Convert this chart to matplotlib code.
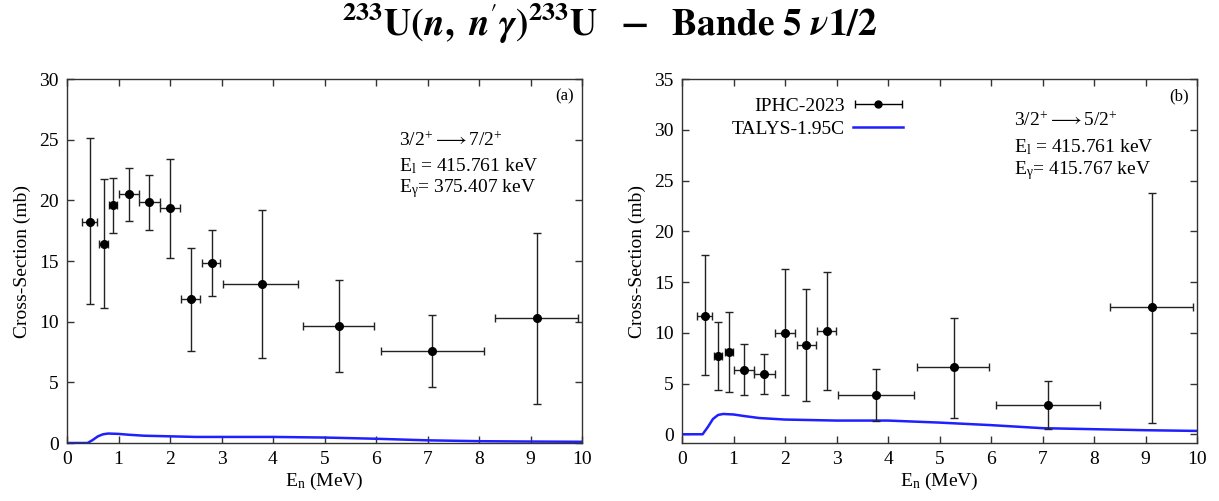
import numpy as np
import matplotlib
matplotlib.use("Agg")
import matplotlib.pyplot as plt
from matplotlib.container import ErrorbarContainer
from matplotlib.legend_handler import HandlerErrorbar

plt.rcParams['font.family'] = ['Liberation Serif', 'DejaVu Serif']
plt.rcParams['mathtext.fontset'] = 'custom'
plt.rcParams['mathtext.rm'] = 'Liberation Serif'
plt.rcParams['mathtext.it'] = 'Liberation Serif:italic'
plt.rcParams['mathtext.bf'] = 'Liberation Serif:bold'

# ---------------- data ----------------
# panel (a): 3/2+ -> 7/2+
a_E      = [0.455, 0.71, 0.90, 1.20, 1.60, 2.00, 2.41, 2.81, 3.78, 5.28, 7.09, 9.12]
a_E_lo   = [0.30, 0.615, 0.82, 1.00, 1.40, 1.80, 2.22, 2.63, 3.03, 4.58, 6.10, 8.32]
a_E_hi   = [0.59, 0.80, 0.98, 1.40, 1.80, 2.20, 2.59, 2.98, 4.49, 5.97, 8.10, 9.93]
a_xs     = [18.25, 16.43, 19.6, 20.5, 19.85, 19.35, 11.84, 14.84, 13.07, 9.63, 7.57, 10.27]
a_xs_lo  = [11.42, 11.15, 17.31, 18.33, 17.59, 15.22, 7.62, 12.08, 7.02, 5.84, 4.60, 3.22]
a_xs_hi  = [25.13, 21.74, 21.8, 22.65, 22.07, 23.4, 16.1, 17.59, 19.19, 13.4, 10.57, 17.34]

# panel (b): 3/2+ -> 5/2+
b_E      = [0.444, 0.705, 0.905, 1.20, 1.59, 2.00, 2.41, 2.81, 3.76, 5.28, 7.10, 9.13]
b_E_lo   = [0.30, 0.63, 0.83, 1.00, 1.40, 1.80, 2.23, 2.63, 3.03, 4.57, 6.09, 8.32]
b_E_hi   = [0.58, 0.78, 0.985, 1.40, 1.80, 2.20, 2.60, 2.99, 4.50, 5.97, 8.12, 9.93]
b_xs     = [11.7, 7.68, 8.1, 6.29, 5.9, 9.98, 8.8, 10.18, 3.89, 6.59, 2.9, 12.49]
b_xs_lo  = [5.8, 4.38, 4.18, 3.82, 3.99, 3.82, 3.3, 4.38, 1.35, 1.58, 0.53, 1.12]
b_xs_hi  = [17.69, 11.1, 12.09, 8.9, 7.87, 16.28, 14.27, 15.95, 6.39, 11.47, 5.27, 23.79]

# TALYS-1.95C calculations
talys_E  = [0.0, 0.4, 0.5, 0.6, 0.7, 0.8, 1.0, 1.2, 1.5, 2.0, 2.5, 3.0, 3.5, 4.0, 5.0, 6.0, 7.0, 8.0, 9.0, 10.0]
talys_a  = [0.0, 0.0, 0.25, 0.55, 0.72, 0.78, 0.75, 0.68, 0.60, 0.55, 0.50, 0.50, 0.50, 0.50, 0.45, 0.35, 0.22, 0.15, 0.12, 0.10]
talys_b  = [0.0, 0.0, 0.70, 1.50, 1.90, 2.00, 1.95, 1.80, 1.60, 1.45, 1.40, 1.35, 1.35, 1.35, 1.15, 0.90, 0.60, 0.50, 0.40, 0.33]

title = (r"$\mathbf{{}^{233}U(}\mathbfit{n}\mathbf{,\ }\mathbfit{n}{}^{\prime}\mathbfit{\gamma}"
         r"\mathbf{)^{233}U\ \ -\ \ Bande\ 5\ }\mathbfit{\nu}\mathbf{1/2}$")

panels = [
    dict(E=a_E, Elo=a_E_lo, Ehi=a_E_hi, xs=a_xs, xlo=a_xs_lo, xhi=a_xs_hi, talys=talys_a,
         ylim=(0, 30), yticks=np.arange(0, 31, 5), tag="(a)",
         trans=r"3/2$^{+}$$\longrightarrow$7/2$^{+}$", Eg="375.407",
         txy=(0.645, [0.83, 0.761, 0.70]), legend=False),
    dict(E=b_E, Elo=b_E_lo, Ehi=b_E_hi, xs=b_xs, xlo=b_xs_lo, xhi=b_xs_hi, talys=talys_b,
         ylim=(-0.86, 35), yticks=np.arange(0, 36, 5), tag="(b)",
         trans=r"3/2$^{+}$$\longrightarrow$5/2$^{+}$", Eg="415.767",
         txy=(0.645, [0.886, 0.813, 0.748]), legend=True),
]

fig = plt.figure(figsize=(12.19, 5.01), dpi=100)
fig.text(0.5, 0.953, title, ha='center', va='center', fontsize=27, math_fontfamily='stix')

lefts = [67/1219, 682/1219]
for p, left in zip(panels, lefts):
    ax = fig.add_axes([left, 58/501, 515/1219, 364/501])
    E = np.array(p['E']); xs = np.array(p['xs'])
    xerr = [E - np.array(p['Elo']), np.array(p['Ehi']) - E]
    yerr = [xs - np.array(p['xlo']), np.array(p['xhi']) - xs]
    ax.plot(talys_E, p['talys'], color='#1f1fff', lw=1.8, zorder=2)
    ax.errorbar(E, xs, xerr=xerr, yerr=yerr, fmt='o', color='black', ms=5.5,
                elinewidth=1.0, ecolor='#222222', capsize=3, capthick=1.0, zorder=3)
    ax.set_xlim(0, 10)
    ax.set_ylim(*p['ylim'])
    ax.set_xticks(np.arange(0, 11, 1))
    ax.set_yticks(p['yticks'])
    ax.tick_params(direction='in', top=True, right=True, length=5, width=1,
                   labelsize=14, color='#333333', pad=6)
    for s in ax.spines.values():
        s.set_linewidth(1.0)
        s.set_color('#333333')
    ax.set_xlabel(r"E$_\mathrm{n}$ (MeV)", fontsize=14, labelpad=2)
    ax.set_ylabel("Cross-Section (mb)", fontsize=14, labelpad=6)
    ax.text(0.985, 0.975, p['tag'], transform=ax.transAxes, ha='right', va='top', fontsize=12)
    tx, tys = p['txy']
    ax.text(tx, tys[0], p['trans'], transform=ax.transAxes, ha='left', va='center', fontsize=14)
    ax.text(tx, tys[1], r"E$_\mathrm{l}$ = 415.761 keV", transform=ax.transAxes, ha='left', va='center', fontsize=14)
    ax.text(tx, tys[2], r"E$_\mathrm{\gamma}$= " + p['Eg'] + " keV", transform=ax.transAxes, ha='left', va='center', fontsize=14)
    if p['legend']:
        h1 = ax.errorbar([np.nan], [np.nan], xerr=[[np.nan], [np.nan]], fmt='o', color='black',
                         ms=5, elinewidth=1.0, capsize=3, label='IPHC-2023')
        h2, = ax.plot([np.nan], [np.nan], color='#1f1fff', lw=1.8, label='TALYS-1.95C')
        ax.legend(handles=[h1, h2], loc='upper right', bbox_to_anchor=(0.43, 0.95),
                  frameon=False, markerfirst=False, fontsize=14, handlelength=2.6,
                  labelspacing=0.3, borderpad=0, handletextpad=0.4, borderaxespad=0,
                  handler_map={ErrorbarContainer: HandlerErrorbar(xerr_size=1.2)})

fig.savefig("out.png", dpi=100)
